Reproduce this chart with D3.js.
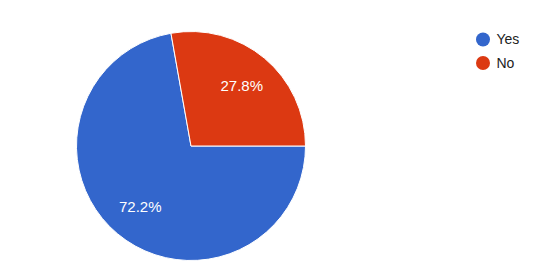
<!DOCTYPE html>
<html>
<head>
<meta charset="utf-8">
<script src="https://cdn.jsdelivr.net/npm/d3@7"></script>
<style>
  body { margin: 0; background: #fff; }
  svg { display: block; }
</style>
</head>
<body>
<div id="chart"></div>
<script>
const categories = ["Yes", "No"];
const values = [72.2, 27.8];
const colors = ["#3366cc", "#dc3912"];

const width = 536, height = 276;
const cx = 191, cy = 146, radius = 114.5, labelRadius = 79;

const svg = d3.select("#chart")
    .append("svg")
    .attr("width", width)
    .attr("height", height);

const color = d3.scaleOrdinal().domain(categories).range(colors);

const pie = d3.pie()
    .sort(null)
    .value(d => d.value)
    .startAngle(Math.PI / 2)
    .endAngle(Math.PI / 2 + 2 * Math.PI);

const data = categories.map((c, i) => ({name: c, value: values[i]}));

const arc = d3.arc().innerRadius(0).outerRadius(radius);
const labelArc = d3.arc().innerRadius(labelRadius).outerRadius(labelRadius);

const g = svg.append("g").attr("transform", `translate(${cx},${cy})`);

const arcs = g.selectAll(".arc")
    .data(pie(data))
    .enter().append("g")
    .attr("class", "arc");

arcs.append("path")
    .attr("d", arc)
    .attr("fill", d => color(d.data.name))
    .attr("stroke", "#fff")
    .attr("stroke-width", 1);

arcs.append("text")
    .attr("transform", d => `translate(${labelArc.centroid(d)})`)
    .attr("dy", "0.35em")
    .attr("text-anchor", "middle")
    .attr("font-family", "Arial, 'Liberation Sans', sans-serif")
    .attr("font-size", "15px")
    .attr("fill", "#fff")
    .text(d => d.data.value.toFixed(1) + "%");

// Legend
const legend = svg.selectAll(".legend")
    .data(categories)
    .enter().append("g")
    .attr("class", "legend")
    .attr("transform", (d, i) => `translate(483,${39.5 + i * 23.5})`);

legend.append("circle")
    .attr("r", 7)
    .attr("fill", d => color(d));

legend.append("text")
    .attr("x", 13.5)
    .attr("dy", "0.35em")
    .attr("font-family", "Arial, 'Liberation Sans', sans-serif")
    .attr("font-size", "14px")
    .attr("fill", "#222")
    .text(d => d);
</script>
</body>
</html>
